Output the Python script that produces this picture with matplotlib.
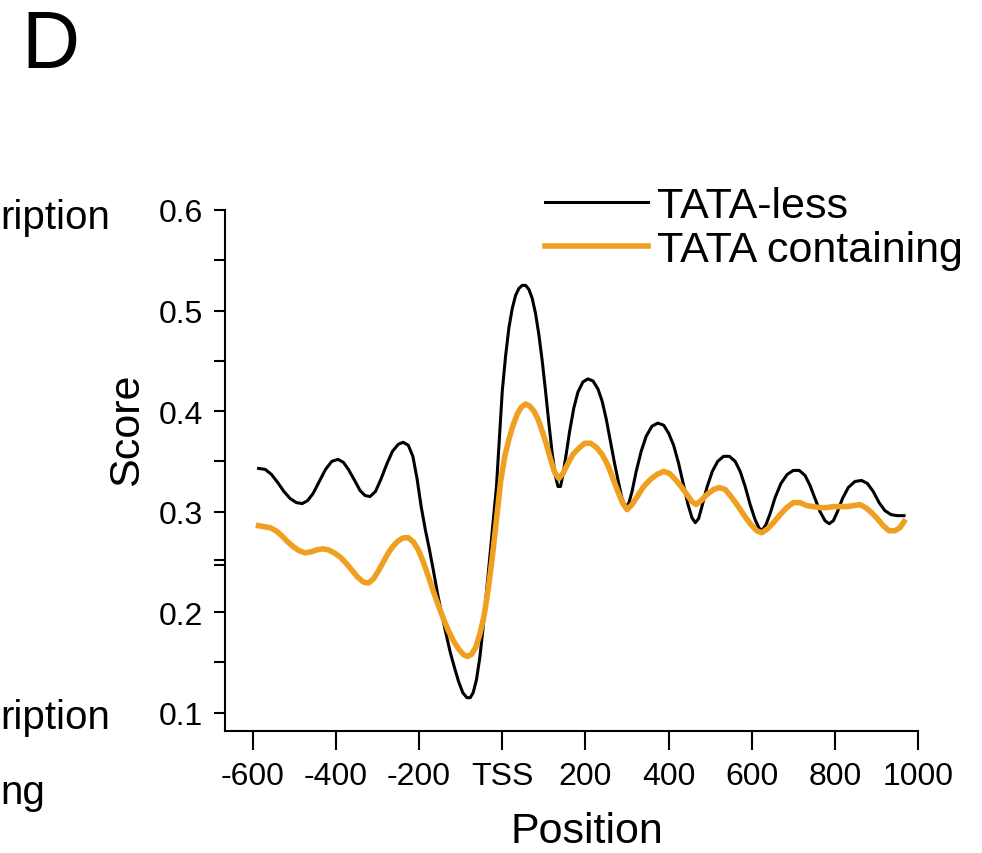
import matplotlib
matplotlib.use("Agg")
import matplotlib.pyplot as plt

plt.rcParams['font.family'] = ['Liberation Sans', 'DejaVu Sans']

# TATA-less (black)
pos_less = [-586, -570, -555, -540, -525, -510, -495, -481, -468, -455, -440, -425, -410,
            -395, -382, -370, -355, -342, -330, -318, -305, -292, -278, -264, -250, -238,
            -226, -215, -205, -195, -185, -175, -165, -155, -145, -135, -125, -115, -105,
            -95, -85, -77, -70, -62, -54, -46, -38, -30, -22, -14, -6, 0, 8, 16, 24, 32,
            40, 48, 56, 64, 72, 80, 88, 96, 104, 112, 120, 128, 134, 140, 146, 154, 162,
            172, 182, 194, 206, 218, 230, 240, 250, 260, 270, 280, 288, 296, 304, 312,
            322, 334, 346, 360, 374, 388, 400, 412, 424, 436, 446, 456, 464, 472, 480,
            492, 505, 518, 532, 546, 560, 572, 584, 596, 608, 618, 626, 634, 644, 656,
            670, 685, 700, 714, 728, 740, 752, 764, 776, 786, 796, 806, 818, 832, 848,
            864, 878, 892, 906, 920, 935, 950, 966]
score_less = [0.343, 0.342, 0.337, 0.329, 0.320, 0.313, 0.309, 0.308, 0.311, 0.318, 0.330,
              0.342, 0.350, 0.352, 0.349, 0.342, 0.331, 0.321, 0.316, 0.315, 0.320, 0.332,
              0.347, 0.360, 0.367, 0.369, 0.366, 0.355, 0.333, 0.305, 0.282, 0.262, 0.240,
              0.217, 0.197, 0.178, 0.160, 0.145, 0.131, 0.120, 0.115, 0.115, 0.120, 0.133,
              0.155, 0.185, 0.220, 0.255, 0.290, 0.325, 0.380, 0.420, 0.455, 0.483, 0.502,
              0.515, 0.522, 0.525, 0.525, 0.521, 0.512, 0.497, 0.476, 0.450, 0.420, 0.388,
              0.358, 0.335, 0.325, 0.325, 0.337, 0.358, 0.380, 0.403, 0.419, 0.429, 0.432,
              0.430, 0.422, 0.410, 0.392, 0.370, 0.348, 0.328, 0.313, 0.305, 0.308, 0.320,
              0.340, 0.360, 0.375, 0.385, 0.388, 0.386, 0.378, 0.366, 0.348, 0.326, 0.308,
              0.294, 0.289, 0.293, 0.305, 0.324, 0.340, 0.350, 0.355, 0.355, 0.350, 0.340,
              0.325, 0.307, 0.292, 0.283, 0.282, 0.287, 0.298, 0.314, 0.328, 0.337, 0.341,
              0.341, 0.336, 0.326, 0.313, 0.300, 0.291, 0.288, 0.291, 0.300, 0.313, 0.324,
              0.330, 0.331, 0.328, 0.320, 0.309, 0.301, 0.297, 0.296, 0.296]

# TATA containing (orange)
pos_tata = [-586, -572, -558, -544, -530, -516, -502, -488, -474, -460, -446, -432, -418,
            -404, -390, -376, -362, -348, -334, -322, -310, -298, -286, -274, -262, -250,
            -238, -226, -214, -202, -190, -178, -166, -154, -142, -130, -118, -106, -94,
            -84, -74, -64, -54, -44, -34, -24, -14, -4, 6, 16, 26, 36, 46, 56, 66, 76, 86,
            96, 106, 116, 126, 136, 146, 158, 170, 184, 198, 212, 226, 240, 254, 266, 278,
            290, 300, 312, 326, 340, 356, 372, 388, 402, 416, 430, 444, 456, 466, 478, 492,
            508, 522, 536, 550, 566, 582, 598, 612, 624, 638, 652, 668, 684, 700, 716, 732,
            748, 764, 780, 796, 812, 828, 844, 860, 874, 888, 902, 916, 930, 944, 956, 966]
score_tata = [0.286, 0.285, 0.284, 0.281, 0.276, 0.270, 0.265, 0.261, 0.259, 0.260, 0.262,
              0.263, 0.262, 0.259, 0.255, 0.249, 0.242, 0.235, 0.230, 0.229, 0.233, 0.241,
              0.250, 0.259, 0.266, 0.271, 0.274, 0.274, 0.270, 0.262, 0.250, 0.236, 0.221,
              0.207, 0.194, 0.182, 0.172, 0.164, 0.158, 0.156, 0.158, 0.165, 0.178, 0.196,
              0.222, 0.255, 0.292, 0.330, 0.355, 0.372, 0.386, 0.397, 0.404, 0.407, 0.405,
              0.400, 0.392, 0.380, 0.367, 0.352, 0.339, 0.333, 0.338, 0.348, 0.357, 0.363,
              0.368, 0.368, 0.364, 0.357, 0.346, 0.333, 0.320, 0.308, 0.302, 0.307, 0.316,
              0.325, 0.332, 0.337, 0.340, 0.338, 0.332, 0.325, 0.317, 0.310, 0.307, 0.311,
              0.317, 0.322, 0.324, 0.322, 0.315, 0.306, 0.296, 0.287, 0.281, 0.279, 0.283,
              0.289, 0.297, 0.304, 0.309, 0.309, 0.306, 0.305, 0.304, 0.304, 0.305, 0.305,
              0.305, 0.306, 0.307, 0.304, 0.299, 0.293, 0.286, 0.281, 0.281, 0.284, 0.290]

xticks = [-600, -400, -200, 0, 200, 400, 600, 800, 1000]
xlabels = ['-600', '-400', '-200', 'TSS', '200', '400', '600', '800', '1000']
yticks = [0.1, 0.2, 0.3, 0.4, 0.5, 0.6]

fig = plt.figure(figsize=(9.82, 8.54), dpi=100)
ax = fig.add_axes([0.229, 0.143, 0.706, 0.610])

ax.plot(pos_less, score_less, color='black', lw=2.2, label='TATA-less',
        solid_joinstyle='round')
ax.plot(pos_tata, score_tata, color='#F0A020', lw=4, label='TATA containing',
        solid_joinstyle='round')

ax.set_xlim(-667, 1000)
ax.set_ylim(0.082, 0.6)
ax.set_xticks(xticks)
ax.set_xticklabels(xlabels)
ax.set_yticks(yticks)
ax.set_yticks([0.15, 0.2465, 0.2515, 0.35, 0.45, 0.55], minor=True)

for s in ['top', 'right']:
    ax.spines[s].set_visible(False)
for s in ['left', 'bottom']:
    ax.spines[s].set_linewidth(1.5)

ax.tick_params(axis='x', length=14, width=1.5, pad=8, labelsize=23)
ax.tick_params(axis='y', which='both', length=8, width=1.5, pad=8, labelsize=23)

ax.set_xlabel('Position', fontsize=31)
ax.set_ylabel('Score', fontsize=31)
ax.xaxis.set_label_coords(0.522, -0.154)
ax.yaxis.set_label_coords(-0.113, 0.58)

ax.legend(loc='upper left', bbox_to_anchor=(545 / 982, 1 - 187 / 854),
          bbox_transform=fig.transFigure, frameon=False, fontsize=31,
          handlelength=2.4, handletextpad=0.2, labelspacing=0.1, borderpad=0,
          borderaxespad=0)

fig.text(0.022, 0.99, 'D', fontsize=58, va='top', ha='left')
fig.text(0.0, 1 - 218 / 854, 'ription', fontsize=29, va='center', ha='left')
fig.text(0.0, 1 - 718 / 854, 'ription', fontsize=29, va='center', ha='left')
fig.text(0.0, 1 - 793 / 854, 'ng', fontsize=29, va='center', ha='left')

fig.savefig('out.png', dpi=100)
